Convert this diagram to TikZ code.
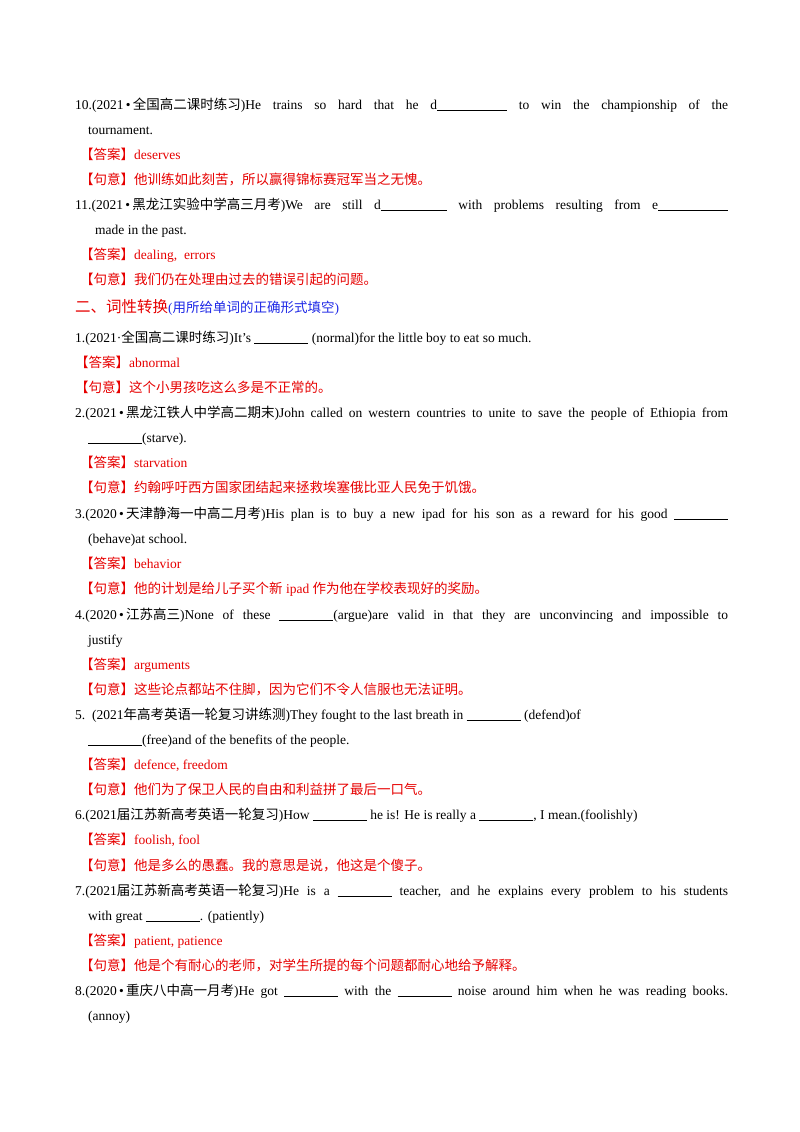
\documentclass[tikz,border=0pt]{standalone}
\usepackage{fontspec}
\setmainfont{Liberation Serif}
\newfontfamily\cjk{Noto Sans CJK SC}
\newcommand{\zh}[1]{{\cjk\fontsize{13.5}{14}\selectfont #1}}
\newcommand{\blk}[1]{\rule[-1.5pt]{#1pt}{0.6pt}}
\definecolor{ansred}{RGB}{230,0,0}
\definecolor{hintblue}{RGB}{30,40,230}
\tikzset{t/.style={anchor=base west,inner sep=0pt,font=\fontsize{13.5}{14}\selectfont},
 r/.style={t,text=ansred}}
\newcommand{\J}[1]{\makebox[653pt][s]{#1}}
\begin{document}
\begin{tikzpicture}[x=1pt,y=-1pt]
\useasboundingbox (0,0) rectangle (800,1132);
\node[t] (l1) at (75,109) {\J{10.(2021\,•\,\zh{全国高二课时练习})He trains so hard that he d\blk{70} to win the championship of the}};
\node[t] (l2) at (88,134) {tournament.};
\node[r] (l3) at (80,159) {\zh{【答案】}deserves};
\node[r] (l4) at (80,184) {\zh{【句意】他训练如此刻苦，所以赢得锦标赛冠军当之无愧。}};
\node[t] (l5) at (75,209) {\J{11.(2021\,•\,\zh{黑龙江实验中学高三月考})We are still d\blk{66} with problems resulting from e\blk{70}}};
\node[t] (l6) at (95,234) {made in the past.};
\node[r] (l7) at (80,259) {\zh{【答案】}dealing,\ \ errors};
\node[r] (l8) at (80,284) {\zh{【句意】我们仍在处理由过去的错误引起的问题。}};
\node[t,text=ansred] (s) at (75,312) {{\cjk\fontsize{15.5}{16}\selectfont 二、词性转换}{\color{hintblue}(\zh{用所给单词的正确形式填空})}};
\node[t] (a1) at (75,342) {1.(2021·\zh{全国高二课时练习})It's \blk{54} (normal)for the little boy to eat so much.};
\node[r] (a2) at (75,367) {\zh{【答案】}abnormal};
\node[r] (a3) at (75,392) {\zh{【句意】这个小男孩吃这么多是不正常的。}};
\node[t] (b1) at (75,417) {\J{2.(2021\,•\,\zh{黑龙江铁人中学高二期末})John called on western countries to unite to save the people of Ethiopia from}};
\node[t] (b2) at (88,442) {\blk{54}(starve).};
\node[r] (b3) at (80,467) {\zh{【答案】}starvation};
\node[r] (b4) at (80,492) {\zh{【句意】约翰呼吁西方国家团结起来拯救埃塞俄比亚人民免于饥饿。}};
\node[t] (c1) at (75,518) {\J{3.(2020\,•\,\zh{天津静海一中高二月考})His plan is to buy a new ipad for his son as a reward for his good \blk{54}}};
\node[t] (c2) at (88,543) {(behave)at school.};
\node[r] (c3) at (80,568) {\zh{【答案】}behavior};
\node[r] (c4) at (80,593) {\zh{【句意】他的计划是给儿子买个新} ipad \zh{作为他在学校表现好的奖励。}};
\node[t] (d1) at (75,619) {\J{4.(2020\,•\,\zh{江苏高三})None of these \blk{54}(argue)are valid in that they are unconvincing and impossible to}};
\node[t] (d2) at (88,644) {justify};
\node[r] (d3) at (80,669) {\zh{【答案】}arguments};
\node[r] (d4) at (80,694) {\zh{【句意】这些论点都站不住脚，因为它们不令人信服也无法证明。}};
\node[t] (e1) at (75,719) {5.\ \ (2021\zh{年高考英语一轮复习讲练测})They fought to the last breath in \blk{54} (defend)of};
\node[t] (e2) at (88,744) {\blk{54}(free)and of the benefits of the people.};
\node[r] (e3) at (80,769) {\zh{【答案】}defence, freedom};
\node[r] (e4) at (80,794) {\zh{【句意】他们为了保卫人民的自由和利益拼了最后一口气。}};
\node[t] (f1) at (75,819) {6.(2021\zh{届江苏新高考英语一轮复习})How \blk{54} he is! He is really a \blk{54}, I mean.(foolishly)};
\node[r] (f2) at (80,844) {\zh{【答案】}foolish, fool};
\node[r] (f3) at (80,870) {\zh{【句意】他是多么的愚蠢。我的意思是说，他这是个傻子。}};
\node[t] (g1) at (75,895) {\J{7.(2021\zh{届江苏新高考英语一轮复习})He is a \blk{54} teacher, and he explains every problem to his students}};
\node[t] (g2) at (88,920) {with great \blk{54}. (patiently)};
\node[r] (g3) at (80,945) {\zh{【答案】}patient, patience};
\node[r] (g4) at (80,970) {\zh{【句意】他是个有耐心的老师，对学生所提的每个问题都耐心地给予解释。}};
\node[t] (h1) at (75,995) {\J{8.(2020\,•\,\zh{重庆八中高一月考})He got \blk{54} with the \blk{54} noise around him when he was reading books.}};
\node[t] (h2) at (88,1020) {(annoy)};
\end{tikzpicture}
\end{document}
